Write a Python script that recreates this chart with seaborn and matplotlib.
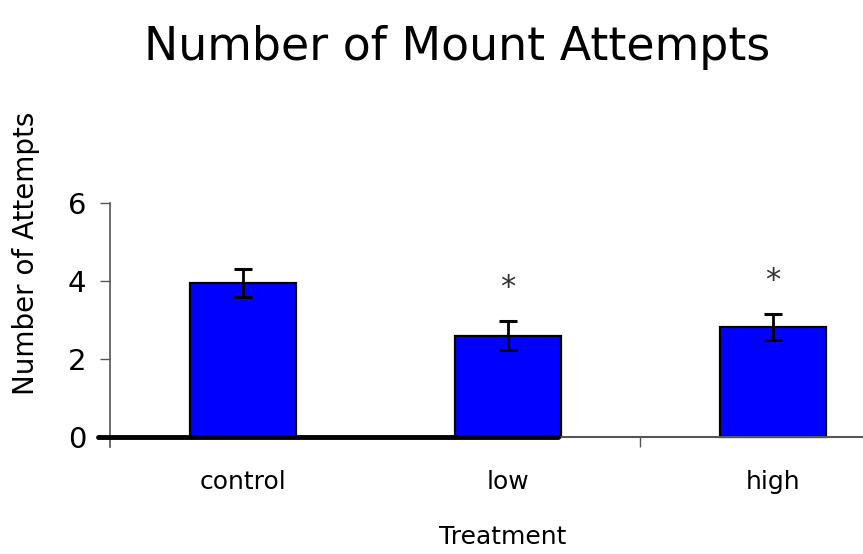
import numpy as np
import pandas as pd
import matplotlib
matplotlib.use("Agg")
import matplotlib.pyplot as plt
import seaborn as sns

# values
treatments = ["control", "low", "high"]
mean_attempts = [3.95, 2.6, 2.82]
sem_attempts = [0.37, 0.38, 0.33]
significant = [False, True, True]

df = pd.DataFrame({"Treatment": treatments, "Attempts": mean_attempts})

sns.set_style("white")
plt.rcParams["font.family"] = ["DejaVu Sans"]
plt.rcParams["text.color"] = "black"
plt.rcParams["axes.labelcolor"] = "black"
plt.rcParams["xtick.labelcolor"] = "black"
plt.rcParams["ytick.labelcolor"] = "black"

fig = plt.figure(figsize=(8.63, 5.54), dpi=100)
ax = fig.add_axes([0.1275, 0.1936, 0.8725, 0.44])

sns.barplot(data=df, x="Treatment", y="Attempts", color="#0000ff",
            edgecolor="black", linewidth=1.6, width=0.4, saturation=1,
            errorbar=None, ax=ax)
for p in ax.patches:
    p.set_facecolor("#0000ff")

xs = np.arange(len(treatments))
ax.errorbar(xs, mean_attempts, yerr=sem_attempts, fmt="none", ecolor="black",
            elinewidth=2, capsize=6.5, capthick=2.2, zorder=5)

# significance marks
for x, m, s, sig in zip(xs, mean_attempts, sem_attempts, significant):
    if sig:
        ax.text(x, m + s + 0.85, "*", ha="center", va="center",
                fontsize=22, color="#333333")

ax.set_xlim(-0.5, 2.34)
ax.set_ylim(-0.25, 6)
ax.set_yticks([0, 2, 4, 6])
ax.tick_params(axis="y", labelsize=21, length=7, width=1, color="#555555",
               pad=10, direction="out", left=True)
ax.set_xticks(xs)
ax.set_xticks([1.5], minor=True)
ax.tick_params(axis="x", which="major", length=0, labelsize=18, pad=24)
ax.tick_params(axis="x", which="minor", length=7, width=1, color="#555555",
               direction="out", bottom=True)

for side in ["top", "right"]:
    ax.spines[side].set_visible(False)
ax.spines["left"].set_color("#555555")
ax.spines["left"].set_linewidth(1.2)
ax.spines["bottom"].set_position(("data", 0))
ax.spines["bottom"].set_color("#555555")
ax.spines["bottom"].set_linewidth(1.5)
ax.axhline(0, xmin=-0.016, xmax=0.595, color="black", lw=3.5,
           clip_on=False, zorder=4)

ax.set_xlabel("Treatment", fontsize=18)
ax.xaxis.set_label_coords(0.522, -0.32)
ax.set_ylabel("Number of Attempts", fontsize=20)
ax.yaxis.set_label_coords(-0.093, 0.794)
fig.suptitle("Number of Mount Attempts", fontsize=33, y=0.955, x=0.53)

fig.savefig("out.png", dpi=100)
